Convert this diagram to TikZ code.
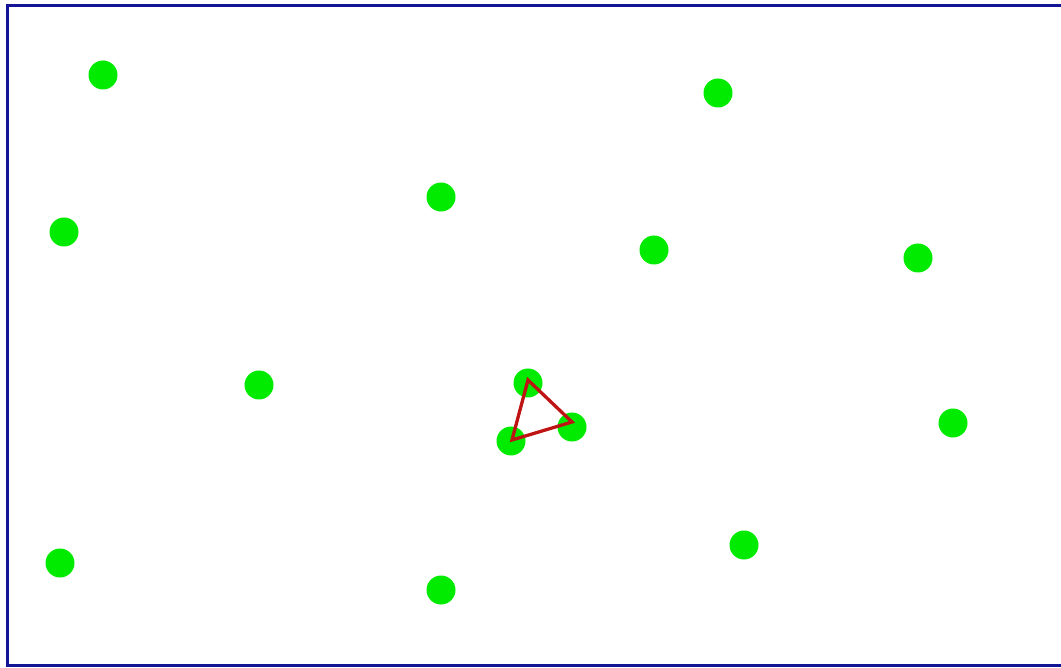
\documentclass[tikz,border=0pt]{standalone}
\usepackage[rgb]{xcolor}
\usepackage{tikz}
\usetikzlibrary{calc}
\definecolor{framecolor}{RGB}{20,20,150}
\definecolor{dotcolor}{RGB}{0,235,0}
\definecolor{trianglecolor}{RGB}{190,20,20}
\tikzset{>=latex}
\tikzset{point/.style={circle, fill=dotcolor, inner sep=0pt, minimum size=29pt}}
\tikzset{hull/.style={draw=trianglecolor, line width=3.3pt, line join=miter}}
\begin{document}
\begin{tikzpicture}[x=1pt, y=-1pt]
      \useasboundingbox (0, 0) rectangle (1061, 668); %
      \draw[framecolor, line width=3pt] (7, 6) rectangle (1066, 665.5); %
      % the points
      \node[point] (p1) at (103, 75) {}; %
      \node[point] (p2) at (718, 93) {}; %
      \node[point] (p3) at (441, 197) {}; %
      \node[point] (p4) at (64, 232) {}; %
      \node[point] (p5) at (654, 250) {}; %
      \node[point] (p6) at (918, 258) {}; %
      \node[point] (p7) at (259, 385) {}; %
      \node[point] (p8) at (528, 383) {}; %
      \node[point] (p9) at (511, 441) {}; %
      \node[point] (p10) at (572, 427) {}; %
      \node[point] (p11) at (953, 423) {}; %
      \node[point] (p12) at (60, 563) {}; %
      \node[point] (p13) at (744, 545) {}; %
      \node[point] (p14) at (441, 590) {}; %
      % the triangle
      \coordinate (a) at ($(p8.center) + (0, -3)$); %
      \coordinate (b) at ($(p9.center) + (1, -1)$); %
      \coordinate (c) at ($(p10.center) + (0, -5)$); %
      \draw[hull] (a) -- (b) -- (c) -- cycle; %
    \end{tikzpicture}
\end{document}
